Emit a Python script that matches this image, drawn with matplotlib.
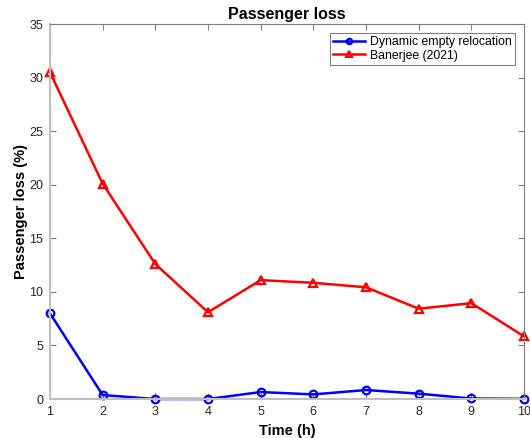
import matplotlib
matplotlib.use("Agg")
import matplotlib.pyplot as plt

plt.rcParams['font.family'] = ['Liberation Sans', 'DejaVu Sans']

hours = [1, 2, 3, 4, 5, 6, 7, 8, 9, 10]
dynamic_loss = [8.0, 0.37, 0.0, 0.0, 0.65, 0.43, 0.84, 0.5, 0.05, 0.02]
banerjee_loss = [30.5, 20.1, 12.6, 8.1, 11.1, 10.85, 10.43, 8.43, 8.95, 5.85]

fig = plt.figure(figsize=(5.3, 4.38), dpi=100)
ax = fig.add_axes([0.0943, 0.089, 0.8944, 0.856])

ax.plot(hours, dynamic_loss, color='#0000ff', lw=1.8, marker='o', ms=5.5,
        mfc='none', mew=1.6, label='Dynamic empty relocation', clip_on=False)
ax.plot(hours, banerjee_loss, color='#ff0000', lw=1.8, marker='^', ms=6,
        mfc='none', mew=1.6, label='Banerjee (2021)', clip_on=False)

ax.set_xlim(1, 10)
ax.set_ylim(0, 35)
ax.set_xticks(range(1, 11))
ax.set_yticks(range(0, 36, 5))

axis_grey = '#262626'
for s in ax.spines.values():
    s.set_color('#7f7f7f')
    s.set_linewidth(0.8)
ax.spines['bottom'].set_color('#bfbfbf')
ax.spines['left'].set_color('#bfbfbf')
ax.spines['bottom'].set_linewidth(1.5)
ax.spines['left'].set_linewidth(1.5)
ax.tick_params(direction='in', top=True, right=True, length=4, width=0.8,
               colors='#7f7f7f', labelcolor=axis_grey, labelsize=9, pad=5)

ax.set_title('Passenger loss', fontsize=11.5, fontweight='bold', pad=4)
ax.set_xlabel('Time (h)', fontsize=10.5, fontweight='bold', labelpad=4)
ax.set_ylabel('Passenger loss (%)', fontsize=10.5, fontweight='bold', labelpad=1)

leg = ax.legend(loc='upper right', fontsize=8.8, fancybox=False, framealpha=1,
                edgecolor='#808080', borderpad=0.3, labelspacing=0.1,
                handlelength=2.6, handletextpad=0.4, borderaxespad=0.7,
                markerscale=0.7)
leg.get_frame().set_linewidth(0.8)

fig.savefig('out.png', dpi=100)
